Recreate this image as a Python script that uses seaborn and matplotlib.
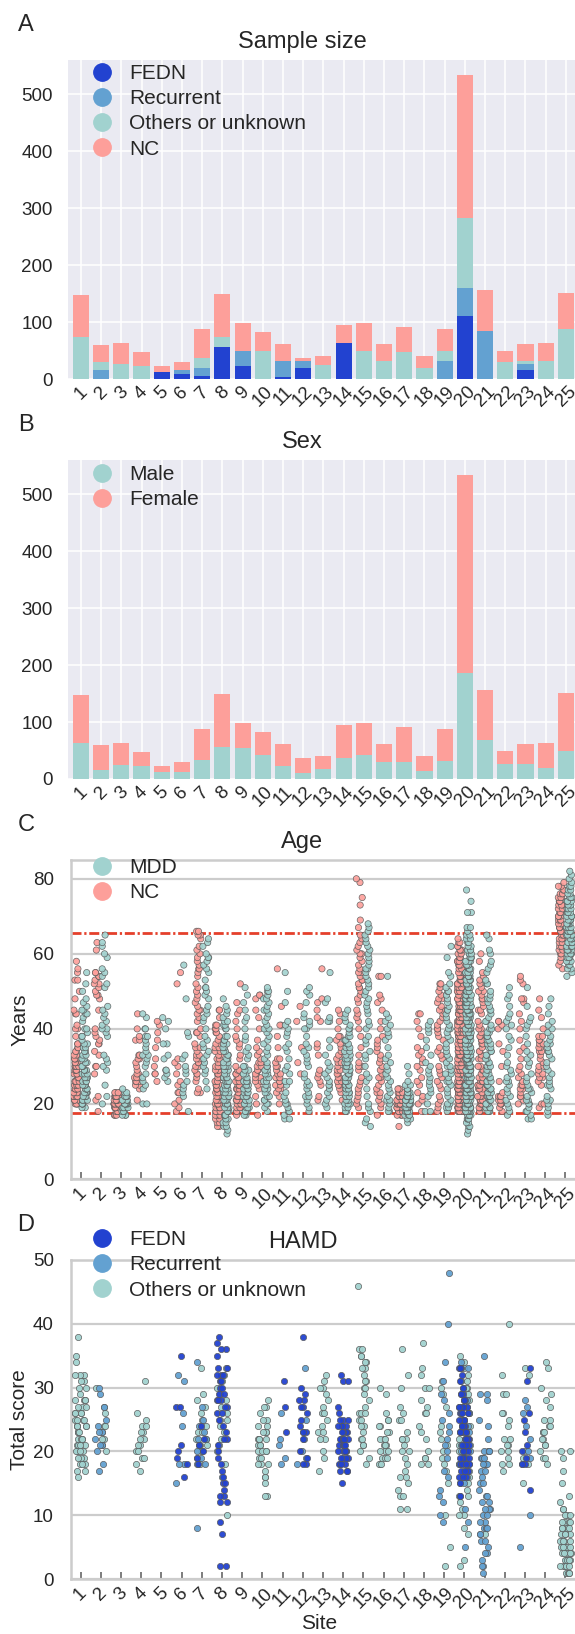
import numpy as np
import pandas as pd
import seaborn as sns
import matplotlib.pyplot as plt
from matplotlib.lines import Line2D

sns.set_theme(style="white")
plt.rcParams["font.family"] = ["Liberation Sans", "DejaVu Sans"]

SITES = [str(i) for i in range(1, 26)]

# Panel A: sample size per site, by group
FEDN_N = [0, 0, 0, 0, 12, 8, 6, 56, 23, 0, 3, 20, 0, 64, 0, 0, 0, 0, 0, 111, 0, 0, 15, 0, 0]
REC_N = [0, 15, 0, 0, 0, 7, 14, 1, 27, 0, 29, 12, 0, 0, 0, 0, 0, 0, 31, 49, 84, 0, 11, 0, 0]
OTHER_N = [73, 14, 26, 23, 0, 0, 17, 17, 0, 50, 0, 0, 25, 0, 50, 31, 47, 20, 19, 122, 1, 29, 6, 32, 88]
NC_N = [75, 31, 38, 25, 11, 15, 50, 76, 49, 32, 29, 5, 16, 31, 49, 31, 44, 20, 37, 251, 71, 21, 29, 31, 63]

# Panel B: sex per site
MALE_N = [63, 15, 25, 23, 13, 12, 34, 57, 54, 42, 23, 11, 17, 36, 42, 29, 30, 14, 32, 186, 69, 26, 26, 19, 50]
FEMALE_N = [85, 45, 39, 25, 10, 18, 53, 93, 45, 40, 38, 26, 24, 59, 57, 33, 61, 26, 55, 347, 87, 24, 35, 44, 101]

# Panel C: ages per site, "age:count" (count 1 if omitted)
AGE_NC = [
    "20:4 21:4 22:5 23:4 24:5 25:4 26:4 27:4 28:4 29:4 30:4 31:3 32:3 33:2 34:2 35:2 36:2 38 40:2 41 44:2 45 48 50 53:2 55 56 58",
    "18 21 22 28 30:2 33 34 36:2 37 38 39 40 45 48 49:2 50 51 52:2 53 54:2 55:2 61 63",
    "17:3 18:5 19:6 20:7 21:6 22:6 23:4",
    "21 24 25:2 26:3 27:3 28:2 29 30 31 32:2 33:2 37:2 38 40 44",
    "26 28:2 30 32 35 37 39 41 42",
    "18 19 20 21 23:2 25 26 28 30 31 32 52 55",
    "23:2 24 26 27 28:2 29 30:2 31:2 32:2 33:2 34 35:2 36 38 39:2 40 42 43 44 45:2 46 47 48 49 50 51 52 54 55 56:2 57 58 59 60 61 62 64 65:2 66:2",
    "14:2 15:2 16:2 17:3 18:4 19:3 20:4 21:4 22:4 23:4 24:3 25:3 26:3 27:3 28:3 29:3 30:3 31:2 32:2 33:2 34:2 35:2 36:2 37 38 39:2 40:2 41:2 43 45:2",
    "17 18:2 19:3 20:4 21:4 22:4 23:3 24:3 25:3 26:3 27:2 28:2 29:2 30 32 33 35 36 37 38 40 42 44 45 47 52",
    "17 20 22 24 25 26:2 27:2 28:2 29:2 30:2 31:2 32 33 34 35 37 40 43 45 48 49:2",
    "20 22 23 24:2 25:2 26:2 27:2 28:2 29 30:2 31 32:2 35 38 41:2 46 56",
    "28 31 35 42 46",
    "21 22 25 26 27 28 29 33 35 36 42 43 45 47 48 56",
    "21 23 24 25:2 26:2 27:2 28:2 29:2 30 31:2 32 33:2 34 35 36 37 38:2 40 42 44 45",
    "19 20 21 22 23 24 25 26 27 29 30:2 31 33 35 38 40 42 43 44 45 47 48 49 50 51:2 52 53:2 54 55:2 56 57 58 59 60:2 61 62 63 64 65 67 69 73 75 79 80",
    "17 19 20 21 22 23:2 24 25 26 27:2 28 29 30 31 32 33 34 35 36 37 38 40 42 45 47 48 49 54:2",
    "14 17:3 18:5 19:7 20:7 21:7 22:6 23:4 24:3",
    "18 20 21 22 23 25 26 27 29 30 31 32 33 34 35 38 40 42 44:2",
    "18 19 20 21 22 24 25 26 27 28 29 30 32 33 34 35 37 38 39 40:2 41 42 43 44 45:2 46 47 48:2 49 50 51 52:2",
    "18:5 19:7 20:8 21:8 22:8 23:8 24:8 25:8 26:8 27:7 28:7 29:6 30:6 31:6 32:6 33:5 34:5 35:5 36:5 37:5 38:5 39:5 40:5 41:5 42:5 43:5 44:5 45:5 46:5 47:4 48:4 49:4 50:4 51:4 52:4 53:4 54:4 55:4 56:3 57:3 58:3 59:3 60:3 61:3 62:2 63:2 64",
    "18:2 19:3 20:3 21:4 22:4 23:3 24:3 25:3 26:3 27:2 28:2 29:2 30:2 32:2 33 34:2 35 36:2 37:2 38:2 39 40:2 41 42 44 45:2 46 47 48:2 49 50:2 51 52 53 54 55 58 60",
    "18 19 20:3 21:3 22:3 23 26 30 34 36 40 41 42:2",
    "20 21 22:2 23 24:2 25:3 26 27 28 29 30 32 34 35 37 40 42 44 47 48:2 52 53 54",
    "19 20:2 25 26 27:2 28:2 29 30:2 31 32 33 34:2 35:2 36:2 37:2 38:2 40 43 45 48",
    "56 57 58 59 60:2 61:2 62:2 63:3 64:3 65:3 66:3 67:3 68:3 69:3 70:3 71:3 72:3 73:3 74:3 75:3 76:3 77:2 78:2 79",
]
AGE_MDD = [
    "19:2 20:4 21:4 22:4 23:4 24:4 25:4 26:3 27:3 28:3 29:3 30:3 31:2 32:3 33:2 34:2 35:2 36:2 37 38:2 39 40:2 42 43 44:2 45:2 46 47 48 50 52 55",
    "20 22 25 29 30 31 32 33 38 39 40:2 41 42 43 44 45 46 51 52 54 55 56 59 60 62 63 65",
    "17:3 18:3 19:4 20:5 21:4 22:4 23:2 24",
    "20:2 24 25 26 27 28 30 31 32 33:2 34 35 36 37 38:2 40:2 43 44",
    "26 27 28 29:2 32 33 36:2 40 42 43",
    "18 22 23 24 25 26 28 29 30 32 33 38 39 48 57",
    "24 26 28 29 30 31 32 33 34 35 36 37 38 40 42 43 44 45 46 48 49 50 51:2 53 55 56 57 58 59:2 60 62 63 64",
    "12 13 14:2 15:2 16:2 17:3 18:3 19:3 20:3 21:3 22:3 23:3 24:3 25:3 26:3 27:3 28:2 29:2 30:3 31:2 32:2 33:2 34:2 35:2 36:2 37:2 38:2 40:2 41:2 42:2 43 44 45 46 48",
    "17:2 18:3 19:3 20:3 21:3 22:3 23:3 24:3 25:3 26:3 27:2 28:2 29:2 30:2 32 33 34 35 37 38 40 42 43 45 47 49 51",
    "18 19 20:2 21:2 22:2 23:2 24:2 25:2 26:2 27:2 28:2 29:2 30:2 31 32 33 34 35 36 37 38 39 40:2 41 42 43 44 45:2 46 47 48:2 49 50:2 51",
    "16:2 17 18:2 19 20:2 21 22 23 25 26:2 28 29 30 32 34 35 36 38 39 40 41 42 47 50 55",
    "18 19 20 21 22:2 23 24 25:2 26 27 28 30 31 32 33 34 35 36 38 40:2 41 42 43 44 47 49 50 51",
    "19 20 21 22 23 24 25:2 26 27 28 29 30 31 33 35 37 42:2 43 47 48 55",
    "18:2 19:2 20:3 21:3 22:3 23:3 24:3 25:3 26:3 27:3 28:3 29:3 30:3 31:3 32:3 33:2 34:2 35:2 36:2 37:2 38:2 39 40:2 41 42 43 44 45",
    "14 15 16 18 19 20 22 24 26 27 28 30 32 33 34 36 37 38 40 41 42 44 45 46 47 48 49 50 51 52 53 54 55 56:2 57 58 59 60 61 62 63 64 65 66 67 68",
    "18:2 19 20 21:2 22 23 24 25 26 27 28 29 30 31 32 33 35 37 38 39 40 41 42 43 44 54",
    "15 16:2 17:3 18:5 19:6 20:7 21:6 22:5 23:4 24:3 25:2 26 28 30",
    "18:2 20 22 23 24 25 26 27 28 29 30 31 33 35 37 39 40 41 42",
    "18 19:2 20:2 21 22 23 24 25 26:2 27 28:2 29 30:2 31 32 33 34 35 36 37 38 39 40:2 41 42 43 44 45:2 46 47 48 49 50:2 51 52 54 55 59 62",
    "12 13 14:2 15:2 16:3 17:4 18:6 19:6 20:7 21:7 22:7 23:7 24:7 25:7 26:7 27:6 28:6 29:6 30:6 31:6 32:6 33:6 34:5 35:5 36:5 37:5 38:5 39:5 40:5 41:5 42:5 43:5 44:5 45:5 46:5 47:5 48:5 49:5 50:5 51:4 52:4 53:4 54:4 55:4 56:4 57:3 58:3 59:3 60:3 61:3 62:2 63:2 64:2 65:2 66 67:2 71:2 74 77",
    "18:3 19:3 20:3 21:3 22:3 23:3 24:3 25:3 26:3 27:2 28:2 29:2 30:2 31:2 32:2 33:2 34:2 35:2 36:2 37:2 38:2 39:2 40:2 41 42:2 43 44 45:2 46 47 48:2 49 50 52:2 53 55 56 57 58 60 61 64 65",
    "17 18 19 20 21 22 23 24 25 26:2 27 28 29 30 31 33 35 37 38 40 41 42 43 44 46 48 49 51",
    "16:2 17 18:2 19 20:2 21:2 22 23 24:2 25 26 27 28 30 31 32 33 34 36 38 40 41 42 43 46 51",
    "17 18 19 20 21:2 22 24 25:2 26 27 28 29 30 31 32 33 34:2 35 36:2 37 38 39 40 41 42 44 46 48",
    "54 55 56:2 57:2 58:3 59:3 60:4 61:4 62:4 63:4 64:4 65:4 66:4 67:4 68:4 69:3 70:3 71:3 72:3 73:3 74:3 75:3 76:2 77:2 78:2 79 80 81 82",
]
AGE_LIMITS = [65.5, 17.5]

# Panel D: HAMD total score per site, by subtype
HAMD_FEDN = {
    6: "16 18 19 20 21 27:2 35",
    7: "18 19 20 21 22 24",
    8: "2:2 7 9 12:2 13:2 14 15:2 16 17 18 19 20 21 22:2 23 24 25 26:2 27:2 28:3 29:2 30:2 31:2 32:3 33:2 35 36:2 37 38",
    11: "23 27 31",
    12: "18:2 19 20 22 23:2 24 25 26 27:2 28:2 29 30 38",
    14: "15 17:3 18:4 19:4 20:5 21:5 22:5 23:4 24:4 25:3 26 27 31:2 32",
    20: "13 15 16:3 17:3 18:4 19:4 20:4 21:4 22:5 23:4 24:4 25:4 26:4 27:4 28:3 29:2 30 31 32 33:3",
    23: "14 18:2 19 20 21 23 25 26 31 33",
}
HAMD_REC = {
    2: "17 18 20 21:2 22 23:2 24 25 27 29 30",
    6: "15 18:2 24 26 31 32",
    7: "8 18:2 19 20 21 22:2 23 24 25 27 34",
    8: "16",
    11: "18 19 21 22 26",
    12: "18 19 20 22 23 25 33",
    19: "9 10 12 13 14 16 17 19 20 21 22 23 24 25 26 28 29 31 34 40 48",
    20: "5 9 11 13 15 16 17 18:2 19 20:2 21:2 22 23:2 24 25 26 27 28 29 30 31 33 34",
    21: "1 2:2 3 4:2 5 6:2 7:2 8:3 9:2 10:2 11:3 12:2 13:2 14 15:2 16 17:2 18:4 19:4 20:4 22 24 25 28 29:2 35",
    23: "5 10 18 19 20 22 24 26 27 28",
}
HAMD_OTHER = {
    1: "16 17:2 18:3 19:3 20:4 21:4 22:4 23:4 24:5 25:4 26:4 27:3 28:4 29 30:2 31:2 32:3 34 35 38",
    2: "20 21 22:2 23 24:2 26 27 30",
    4: "17 18 19:2 20:2 21:2 22:2 23:2 24:2 25 26 31",
    7: "18 19 20:2 21:2 22:2 23:2 24 25 26 27 28 29 33",
    8: "10 18 20 21 22 23 24 25:2 26 27 28 29 30 31 32 33",
    10: "13:2 15 16:2 17 18:3 19:3 20:4 21:3 22:4 23:3 24:2 25:2 26 27:2 28",
    13: "17 19 20 22:2 23:2 24 25 26:3 27 28 29 30:2 31 32",
    15: "18 19 20 21:2 22:2 23 24:2 25:2 26:3 27 28 29 30:2 31:2 32 33:2 34:2 35:2 36:2 46",
    16: "18:3 19:3 20:3 21:3 22:3 23:2 24:2 25:2 26 29 30",
    17: "11:2 13:2 14 15 16:2 17 18 19 20:2 21 22:3 23 25:2 26 27 30 32 36",
    18: "18:2 19:2 20 22 23 24 26:2 27 28 30:2 32 33 37",
    19: "2 5 10 15 17 18 19 20 21 22 23 24 27 29 30 31",
    20: "2 3 7 8 10:2 11 12 13:2 14 15:2 16:2 17:2 18:3 19:3 20:3 21:3 22:3 23:3 24:3 25:2 26:2 27:2 28:2 29 30:2 31 32 33 34 35",
    21: "7",
    22: "17 18:2 19 20:2 21:2 22:2 24 25 26:2 29:2 32 40",
    23: "15 18 19 20 32 33",
    24: "18 19:2 20 21:2 22:2 23:3 24:2 25:2 27 28 29 30 33 34",
    25: "1:4 2:5 3:5 4:5 5:5 6:5 7:4 8:4 9:4 10:3 11:2 12 13 15 17 19 20:2",
}

C_FEDN = "#2242d0"
C_REC = "#63a1d1"
C_OTHER = "#a1d2cf"
C_NC = "#fd9f9a"


def expand(spec):
    vals = []
    for tok in spec.split():
        if ":" in tok:
            v, c = tok.split(":")
            vals += [float(v)] * int(c)
        else:
            vals.append(float(tok))
    return vals


rows = []
for i, site in enumerate(SITES):
    rows += [(site, a, "NC") for a in expand(AGE_NC[i])]
    rows += [(site, a, "MDD") for a in expand(AGE_MDD[i])]
age_df = pd.DataFrame(rows, columns=["Site", "Age", "Group"])

rows = []
for name, table in [("Others or unknown", HAMD_OTHER), ("Recurrent", HAMD_REC), ("FEDN", HAMD_FEDN)]:
    for site, spec in table.items():
        rows += [(str(site), s, name) for s in expand(spec)]
hamd_df = pd.DataFrame(rows, columns=["Site", "Score", "Subtype"])

fig = plt.figure(figsize=(5.75, 16.34), dpi=100)
H = 1634.0


def add_axes(left_px, top_px, right_px, bottom_px):
    return fig.add_axes([left_px / 575, 1 - bottom_px / H, (right_px - left_px) / 575, (bottom_px - top_px) / H])


def stacked(ax, layers):
    tops = np.cumsum([v for v, _ in layers], axis=0)
    for (vals, color), top in reversed(list(zip(layers, tops))):
        sns.barplot(x=SITES, y=top, order=SITES, color=color, saturation=1,
                    width=0.8, errorbar=None, linewidth=0, ax=ax)


def style_dark(ax):
    ax.set_facecolor("#EAEAF2")
    ax.grid(True, color="white", lw=1.1)
    ax.set_axisbelow(True)
    for s in ax.spines.values():
        s.set_visible(False)
    ax.tick_params(axis="both", length=0, labelsize=13.5)
    ax.tick_params(axis="y", pad=11)
    ax.tick_params(axis="x", labelrotation=45, pad=3)
    ax.set_xlim(-0.64, 24.5)
    ax.set_ylim(0, 560)
    ax.set_yticks(range(0, 600, 100))
    ax.set_xlabel("")
    ax.set_ylabel("")


def style_white(ax):
    ax.set_facecolor("white")
    ax.yaxis.grid(True, color="#cccccc", lw=1.6)
    ax.xaxis.grid(False)
    ax.set_axisbelow(True)
    for s in ax.spines.values():
        s.set_color("#cccccc")
        s.set_linewidth(1.8)
    ax.tick_params(axis="x", direction="in", length=5, width=1.3, color="0.45",
                   bottom=True, labelrotation=45, labelsize=13.5, pad=4)
    ax.tick_params(axis="y", length=0, labelsize=13.5, pad=12)
    ax.set_xlim(-0.5, 24.5)


def legend(ax, items, x, y):
    handles = [Line2D([], [], marker="o", ls="", markersize=12.5, color=c, label=l) for l, c in items]
    ax.legend(handles=handles, loc="upper left", bbox_to_anchor=(x, y), frameon=False,
              fontsize=15, borderpad=0, borderaxespad=0, handlelength=1,
              handletextpad=0.8, labelspacing=0.3)


# A
axA = add_axes(68, 60, 576, 379)
stacked(axA, [(FEDN_N, C_FEDN), (REC_N, C_REC), (OTHER_N, C_OTHER), (NC_N, C_NC)])
style_dark(axA)
legend(axA, [("FEDN", C_FEDN), ("Recurrent", C_REC), ("Others or unknown", C_OTHER), ("NC", C_NC)], 0.0465, 0.9875)

# B
axB = add_axes(68, 460, 576, 779)
stacked(axB, [(MALE_N, C_OTHER), (FEMALE_N, C_NC)])
style_dark(axB)
legend(axB, [("Male", C_OTHER), ("Female", C_NC)], 0.0465, 0.984)

# C
axC = add_axes(70.5, 860, 575.5, 1179)
np.random.seed(3)
sns.stripplot(data=age_df, x="Site", y="Age", hue="Group", hue_order=["NC", "MDD"], order=SITES,
              palette={"NC": C_NC, "MDD": C_OTHER}, dodge=True, jitter=0.3, size=4.5,
              edgecolor="0.35", linewidth=0.5, alpha=0.9, legend=False, ax=axC)
for yv in AGE_LIMITS:
    axC.axhline(yv, color="#e5402b", lw=2, ls=(0, (3.6, 1.0, 0.8, 1.0)), zorder=0.9)
style_white(axC)
axC.set_ylim(0, 85)
axC.set_yticks(range(0, 81, 20))
axC.set_xlabel("")
axC.set_ylabel("Years", fontsize=15)
axC.yaxis.set_label_coords(-0.082, 0.5)
legend(axC, [("MDD", C_OTHER), ("NC", C_NC)], 0.0418, 1.006)

# D
axD = add_axes(70.5, 1260, 575.5, 1579)
np.random.seed(5)
for name, color in [("Others or unknown", C_OTHER), ("Recurrent", C_REC), ("FEDN", C_FEDN)]:
    sub = hamd_df[hamd_df["Subtype"] == name]
    sns.stripplot(data=sub, x="Site", y="Score", order=SITES, color=color, jitter=0.27,
                  size=4.5, edgecolor="0.35", linewidth=0.5, alpha=0.95, ax=axD)
style_white(axD)
axD.set_ylim(0, 50)
axD.set_yticks(range(0, 51, 10))
axD.set_xlabel("Site", fontsize=15)
axD.xaxis.set_label_coords(0.492, -0.11)
axD.set_ylabel("Total score", fontsize=15)
axD.yaxis.set_label_coords(-0.082, 0.5)
legend(axD, [("FEDN", C_FEDN), ("Recurrent", C_REC), ("Others or unknown", C_OTHER)], 0.0418, 1.094)

# panel letters and titles
for letter, y in [("A", 25), ("B", 425), ("C", 825), ("D", 1225)]:
    fig.text(26 / 575, 1 - y / H, letter, fontsize=17, ha="center", va="center")
for title, y in [("Sample size", 41.7), ("Sex", 441.7), ("Age", 841.7), ("HAMD", 1241.7)]:
    fig.text(302.5 / 575, 1 - y / H, title, fontsize=17, ha="center", va="center")

fig.savefig("out.png", dpi=100)
